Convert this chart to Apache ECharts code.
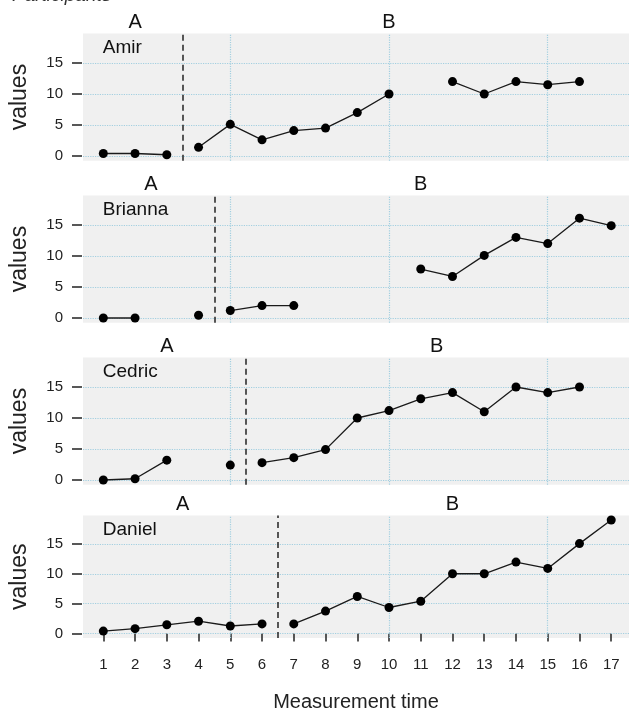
<!DOCTYPE html>
<html>
<head>
<meta charset="utf-8">
<script src="https://cdn.jsdelivr.net/npm/echarts@6/dist/echarts.min.js"></script>
<style>
html,body{margin:0;padding:0;background:#fff;}
#c{width:629px;height:713px;}
</style>
</head>
<body>
<div id="c"></div>
<script>
// ---- data ----
const participants = ['Amir', 'Brianna', 'Cedric', 'Daniel'];
const amirValues    = [0.4, 0.4, 0.2, 1.4, 5.1, 2.6, 4.1, 4.5, 7.0, 10.0, null, 12.0, 10.0, 12.0, 11.5, 12.0];
const briannaValues = [0, 0, null, 0.45, 1.2, 2.0, 2.0, null, null, null, 7.9, 6.7, 10.1, 13.0, 12.0, 16.1, 14.9];
const cedricValues  = [0, 0.2, 3.2, null, 2.4, 2.8, 3.6, 4.9, 10.0, 11.2, 13.1, 14.1, 11.0, 15.0, 14.1, 15.0, null];
const danielValues  = [0.4, 0.8, 1.45, 2.05, 1.25, 1.6, 1.6, 3.75, 6.2, 4.35, 5.4, 10.0, 10.0, 11.95, 10.9, 15.05, 19.0];
const phaseAEnd = [3, 4, 5, 6];          // last measurement of phase A
const phaseNames = ['A', 'B'];
const xTicks = [1, 2, 3, 4, 5, 6, 7, 8, 9, 10, 11, 12, 13, 14, 15, 16, 17];
const yTicks = [0, 5, 10, 15];
const xGrid = [5, 10, 15];

const allValues = [amirValues, briannaValues, cedricValues, danielValues];

// ---- layout / style ----
const tops = [33.5, 195.5, 357.5, 515.5];
const panelH = 127.2;
const xMin = 0.36, xMax = 17.56;
const yMin = -0.76, yMax = 19.76;
const FONT = 'Liberation Sans, Arial, sans-serif';
const ink = '#1a1a1a';

const grids = [], xAxes = [], yAxes = [], series = [];

participants.forEach((name, i) => {
  const vals = allValues[i];
  const aEnd = phaseAEnd[i];
  const n = vals.length;
  const last = i === participants.length - 1;

  grids.push({
    left: 83, right: 0, top: tops[i], height: panelH,
    show: true, backgroundColor: '#f0f0f0', borderWidth: 0
  });

  xAxes.push({
    type: 'value', gridIndex: i, min: xMin, max: xMax,
    offset: 5,
    axisLine: { show: false },
    splitLine: { show: false },
    axisTick: { show: last, customValues: xTicks, length: 8, lineStyle: { color: '#222', width: 1.5 } },
    axisLabel: { show: last, customValues: xTicks, margin: 14, color: '#222', fontSize: 15, fontFamily: FONT },
    name: last ? 'Measurement time' : '',
    nameLocation: 'middle', nameGap: 49,
    nameTextStyle: { color: '#222', fontSize: 20, fontFamily: FONT }
  });

  yAxes.push({
    type: 'value', gridIndex: i, min: yMin, max: yMax,
    offset: 1,
    axisLine: { show: false },
    splitLine: { show: false },
    axisTick: { show: true, customValues: yTicks, length: 10, lineStyle: { color: '#222', width: 1.5 } },
    axisLabel: { customValues: yTicks, margin: 19, color: '#222', fontSize: 15, fontFamily: FONT },
    name: 'values', nameLocation: 'middle', nameGap: 51,
    nameTextStyle: { color: '#222', fontSize: 23, fontFamily: FONT }
  });

  const toPair = (v, x) => [x, v == null ? '-' : v];
  const dataA = vals.slice(0, aEnd).map((v, j) => toPair(v, j + 1));
  const dataB = vals.slice(aEnd).map((v, j) => toPair(v, aEnd + j + 1));

  const gridLineStyle = { type: 'dotted', color: '#a3cfe0', width: 1.2 };
  const hiddenSym = { symbol: 'rect', symbolSize: 1, itemStyle: { color: 'rgba(0,0,0,0)' } };
  const phaseLabel = (txt) => ({
    show: true, position: 'top', distance: 1, formatter: txt,
    color: '#111', fontSize: 20, lineHeight: 20, fontFamily: FONT
  });

  const common = {
    type: 'line', xAxisIndex: i, yAxisIndex: i,
    symbol: 'circle', symbolSize: 9, showSymbol: true,
    connectNulls: false, animation: false, z: 3,
    lineStyle: { color: ink, width: 1.3 },
    itemStyle: { color: '#000' },
    emphasis: { disabled: true }
  };

  series.push(Object.assign({}, common, {
    name: name + ' ' + phaseNames[0],
    data: dataA,
    markLine: {
      silent: true, symbol: ['none', 'none'], z: 1, animation: false,
      label: { show: false }, lineStyle: gridLineStyle,
      data: yTicks.map(v => ({ yAxis: v })).concat(xGrid.map(v => ({ xAxis: v })))
    },
    markPoint: {
      silent: true, animation: false, z: 5,
      data: [
        Object.assign({ coord: [(1 + aEnd) / 2, yMax], label: phaseLabel(phaseNames[0]) }, hiddenSym),
        Object.assign({
          coord: [1, yMax],
          label: { show: true, position: 'right', distance: 0, offset: [-1, 14], formatter: name,
                   color: '#111', fontSize: 19, fontFamily: FONT }
        }, hiddenSym)
      ]
    }
  }));

  series.push(Object.assign({}, common, {
    name: name + ' ' + phaseNames[1],
    data: dataB,
    markLine: {
      silent: true, symbol: ['none', 'none'], z: 4, animation: false,
      label: { show: false },
      lineStyle: { type: [6, 4], color: '#222', width: 1.5 },
      data: [{ xAxis: aEnd + 0.5 }]
    },
    markPoint: {
      silent: true, animation: false, z: 5,
      data: [
        Object.assign({ coord: [(aEnd + 1 + n) / 2, yMax], label: phaseLabel(phaseNames[1]) }, hiddenSym)
      ]
    }
  }));
});

const chart = echarts.init(document.getElementById('c'), null, { renderer: 'canvas' });
chart.setOption({
  backgroundColor: '#ffffff',
  animation: false,
  title: {
    text: 'Participants', left: 12, top: -14, padding: 0,
    textStyle: { fontStyle: 'italic', fontWeight: 'normal', fontSize: 19, color: '#333', fontFamily: FONT }
  },
  grid: grids,
  xAxis: xAxes,
  yAxis: yAxes,
  series: series
});
</script>
</body>
</html>
